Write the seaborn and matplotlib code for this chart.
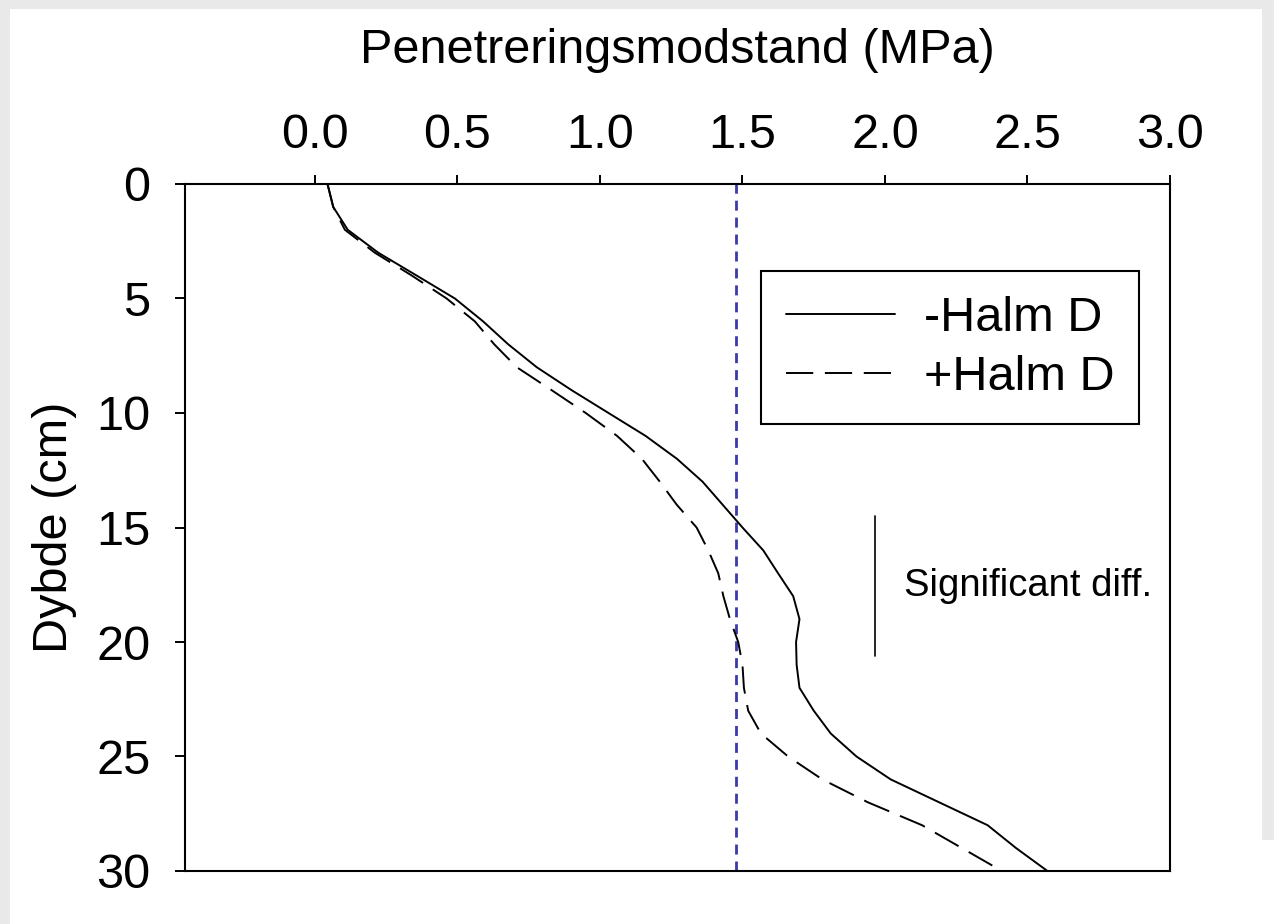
import matplotlib
matplotlib.use("Agg")
import matplotlib.pyplot as plt
from matplotlib.patches import Rectangle
import numpy as np
import pandas as pd
import seaborn as sns

# ---- data ----
depth = list(range(0, 31))
halm_minus = [0.044, 0.064, 0.115, 0.222, 0.357, 0.491, 0.59, 0.678, 0.778, 0.90,
              1.03, 1.16, 1.27, 1.36, 1.43, 1.50, 1.573, 1.625, 1.678, 1.70,
              1.688, 1.69, 1.70, 1.75, 1.81, 1.90, 2.02, 2.19, 2.36, 2.46, 2.57]
halm_plus = [0.044, 0.064, 0.105, 0.21, 0.34, 0.462, 0.561, 0.629, 0.708, 0.83,
             0.95, 1.06, 1.147, 1.21, 1.269, 1.339, 1.38, 1.415, 1.433, 1.456,
             1.485, 1.50, 1.505, 1.52, 1.565, 1.66, 1.78, 1.94, 2.13, 2.27, 2.41]
series_labels = ["-Halm D", "+Halm D"]
x_ticks = [0.0, 0.5, 1.0, 1.5, 2.0, 2.5, 3.0]
y_ticks = [0, 5, 10, 15, 20, 25, 30]
ref_value = 1.477
sig_x = 1.965
sig_depth = [14.5, 20.6]
sig_text = "Significant diff."

df = pd.DataFrame({
    "depth": depth + depth,
    "pen": halm_minus + halm_plus,
    "series": [series_labels[0]] * len(depth) + [series_labels[1]] * len(depth),
})

sns.set_theme(style="white")
plt.rcParams["font.family"] = ["Liberation Sans", "DejaVu Sans"]
plt.rcParams["text.color"] = "black"

FS = 35

fig = plt.figure(figsize=(12.74, 9.24), dpi=100, facecolor="white")
# light grey frame strips
for (x0, y0, w, h) in [(0, 1 - 9 / 924, 1, 9 / 924), (0, 0, 10 / 1274, 1),
                       (1262 / 1274, 84 / 924, 12 / 1274, 1 - 84 / 924)]:
    fig.patches.append(Rectangle((x0, y0), w, h, transform=fig.transFigure,
                                 facecolor="#e9e9e9", edgecolor="none", zorder=-10))

ax = fig.add_axes([185 / 1274, 1 - 871 / 924, (1170 - 185) / 1274, (871 - 184) / 924])
ax.set_facecolor("white")

sns.lineplot(data=df, x="pen", y="depth", hue="series", style="series",
             palette=["black", "black"],
             dashes={series_labels[0]: "", series_labels[1]: (14, 6)},
             sort=False, estimator=None, linewidth=1.4, ax=ax, legend=True)

ax.axvline(ref_value, color="#3a3aa8", lw=2, dashes=(3.6, 2.5), zorder=1)
ax.plot([sig_x, sig_x], sig_depth, color="black", lw=1.2)
ax.text(2.067, 17.55, sig_text, fontsize=27.5, va="center", ha="left", color="black")

ax.set_xlim(-0.456, 3.0)
ax.set_ylim(30, 0)
ax.set_xticks(x_ticks)
ax.set_xticklabels([f"{v:.1f}" for v in x_ticks])
ax.set_yticks(y_ticks)
ax.set_yticklabels([str(v) for v in y_ticks])
ax.xaxis.tick_top()
ax.xaxis.set_label_position("top")
ax.tick_params(axis="x", which="both", top=True, bottom=False, direction="out",
               length=6.5, width=1.4, pad=12, labelsize=FS, colors="black")
ax.tick_params(axis="y", which="both", left=True, right=False, direction="out",
               length=7, width=1.4, pad=18, labelsize=FS, colors="black")
for s in ax.spines.values():
    s.set_visible(True)
    s.set_color("black")
    s.set_linewidth(1.5)

ax.set_xlabel("Penetreringsmodstand (MPa)", fontsize=FS, labelpad=36, color="black")
ax.set_ylabel("Dybde (cm)", fontsize=FS, labelpad=14, color="black")

handles, labels = ax.get_legend_handles_labels()
leg = ax.legend(handles, labels, loc="upper left", bbox_to_anchor=(0.585, 0.873),
                borderaxespad=0, fontsize=FS, frameon=True, fancybox=False,
                edgecolor="black", facecolor="white", framealpha=1,
                handlelength=2.25, handletextpad=0.6, labelspacing=0.3, borderpad=0.5)
leg.get_frame().set_linewidth(1.5)
for t in leg.get_texts():
    t.set_color("black")

fig.savefig("out.png", dpi=100, facecolor=fig.get_facecolor())
